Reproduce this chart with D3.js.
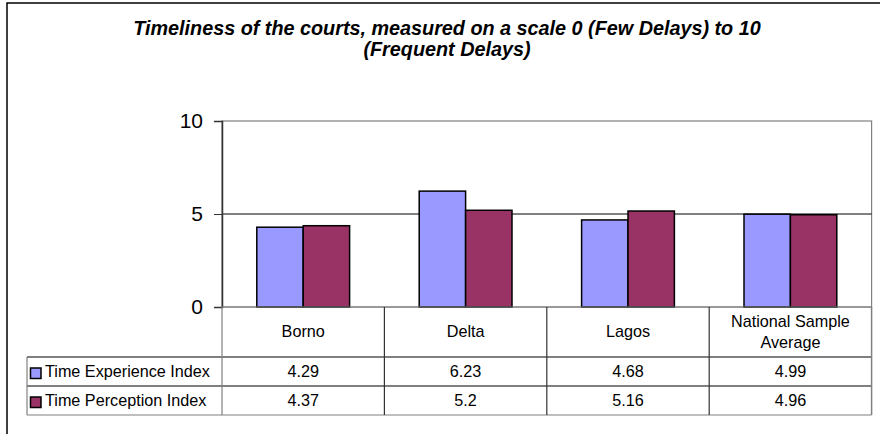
<!DOCTYPE html>
<html>
<head>
<meta charset="utf-8">
<script src="https://cdn.jsdelivr.net/npm/d3@7"></script>
<style>
  body { margin: 0; background: #fff; }
  text { font-family: "Liberation Sans", Arial, sans-serif; }
</style>
</head>
<body>
<div class="chart"></div>
<script>
// Timeliness of the courts - clustered columns with data table

var categories = ["Borno", "Delta", "Lagos", "National Sample Average"];
var seriesNames = ["Time Experience Index", "Time Perception Index"];
var experienceValues = [4.29, 6.23, 4.68, 4.99];
var perceptionValues = [4.37, 5.2, 5.16, 4.96];
var experienceLabels = ["4.29", "6.23", "4.68", "4.99"];
var perceptionLabels = ["4.37", "5.2", "5.16", "4.96"];
var yTicks = [0, 5, 10];

var svgWidth = 880;
var svgHeight = 434;

var colors = ["#9999FF", "#993366"];

var plot = { left: 222, right: 871.6, top: 121, bottom: 307 };
var tableLeft = 27;
var rowLines = [307, 357, 386, 415];

var svg = d3.select(".chart")
    .append("svg")
    .attr("width", svgWidth)
    .attr("height", svgHeight);

// outer chart frame (only top and left are visible)
svg.append("path")
    .attr("d", "M7,440 L7,3 L890,3")
    .attr("fill", "none")
    .attr("stroke", "#000")
    .attr("stroke-width", 1.5);

// title
var title = svg.append("text")
    .attr("text-anchor", "middle")
    .attr("font-size", "19.8px")
    .attr("font-weight", "bold")
    .attr("font-style", "italic");
title.append("tspan").attr("x", 447).attr("y", 35)
    .text("Timeliness of the courts, measured on a scale 0 (Few Delays) to 10");
title.append("tspan").attr("x", 447).attr("y", 56)
    .text("(Frequent Delays)");

// scales
var x0 = d3.scaleBand()
    .domain(categories)
    .range([plot.left, plot.right]);

var x1 = d3.scaleBand()
    .domain(seriesNames)
    .range([0, x0.bandwidth()])
    .paddingOuter(0.75);

var y = d3.scaleLinear()
    .domain([0, 10])
    .range([plot.bottom, plot.top]);

// plot area border
svg.append("rect")
    .attr("x", plot.left)
    .attr("y", plot.top)
    .attr("width", plot.right - plot.left)
    .attr("height", plot.bottom - plot.top)
    .attr("fill", "none")
    .attr("stroke", "#808080")
    .attr("stroke-width", 1.2);

// gridline at 5
svg.selectAll(".grid")
    .data(yTicks.filter(function(d) { return d > 0 && d < 10; }))
    .enter()
    .append("line")
    .attr("x1", plot.left)
    .attr("x2", plot.right)
    .attr("y1", function(d) { return y(d); })
    .attr("y2", function(d) { return y(d); })
    .attr("stroke", "#000")
    .attr("stroke-width", 1);

// bars
var series = [experienceValues, perceptionValues];
series.forEach(function(vals, s) {
    svg.append("g")
        .selectAll("rect")
        .data(vals)
        .enter()
        .append("rect")
        .attr("x", function(d, i) { return x0(categories[i]) + x1(seriesNames[s]); })
        .attr("y", function(d) { return y(d); })
        .attr("width", x1.bandwidth())
        .attr("height", function(d) { return y(0) - y(d); })
        .attr("fill", colors[s])
        .attr("stroke", "#000")
        .attr("stroke-width", 1.5);
});

// y axis
var leftAxis = d3.axisLeft(y)
    .tickValues(yTicks)
    .tickSize(8)
    .tickPadding(11)
    .tickFormat(d3.format("d"));

var yAxis = svg.append("g")
    .attr("transform", "translate(" + plot.left + ",0)")
    .call(leftAxis);
yAxis.select(".domain").attr("stroke", "#333").attr("stroke-width", 1.5);
yAxis.selectAll(".tick line").attr("stroke", "#333");
yAxis.selectAll("text")
    .attr("font-size", "21px")
    .attr("fill", "#000")
    .attr("font-family", "'Liberation Sans', Arial, sans-serif");

// data table
var table = svg.append("g");

// horizontal lines
table.append("line")
    .attr("x1", plot.left).attr("x2", plot.right)
    .attr("y1", rowLines[0]).attr("y2", rowLines[0])
    .attr("stroke", "#808080").attr("stroke-width", 1.2);
rowLines.slice(1).forEach(function(yy, i) {
    table.append("line")
        .attr("x1", tableLeft).attr("x2", plot.right)
        .attr("y1", yy).attr("y2", yy)
        .attr("stroke", i == 2 ? "#808080" : "#000")
        .attr("stroke-width", 1.2);
});

// vertical lines
table.append("line")
    .attr("x1", tableLeft).attr("x2", tableLeft)
    .attr("y1", rowLines[1]).attr("y2", rowLines[3])
    .attr("stroke", "#808080").attr("stroke-width", 1.2);
categories.forEach(function(c, i) {
    table.append("line")
        .attr("x1", x0(c)).attr("x2", x0(c))
        .attr("y1", rowLines[0]).attr("y2", rowLines[3])
        .attr("stroke", i == 0 ? "#808080" : "#333")
        .attr("stroke-width", 1.2);
});
table.append("line")
    .attr("x1", plot.right).attr("x2", plot.right)
    .attr("y1", rowLines[0]).attr("y2", rowLines[3])
    .attr("stroke", "#808080").attr("stroke-width", 1.5);

// category headers
categories.forEach(function(c) {
    var cx = x0(c) + x0.bandwidth() / 2;
    var t = table.append("text")
        .attr("text-anchor", "middle")
        .attr("font-size", "16.2px");
    if (c == "National Sample Average") {
        t.append("tspan").attr("x", cx).attr("y", 327).text("National Sample");
        t.append("tspan").attr("x", cx).attr("y", 348).text("Average");
    } else {
        t.attr("x", cx).attr("y", 337).text(c);
    }
});

// value rows
var rowLabels = [experienceLabels, perceptionLabels];
var rowBase = [377, 406];
rowLabels.forEach(function(labels, s) {
    table.append("rect")
        .attr("x", 30.5)
        .attr("y", rowBase[s] - 9)
        .attr("width", 10.5)
        .attr("height", 10.5)
        .attr("fill", colors[s])
        .attr("stroke", "#000")
        .attr("stroke-width", 1.5);
    table.append("text")
        .attr("x", 45)
        .attr("y", rowBase[s])
        .attr("font-size", "16.2px")
        .text(seriesNames[s]);
    table.selectAll(".v" + s)
        .data(labels)
        .enter()
        .append("text")
        .attr("x", function(d, i) { return x0(categories[i]) + x0.bandwidth() / 2; })
        .attr("y", rowBase[s])
        .attr("text-anchor", "middle")
        .attr("font-size", "16.2px")
        .text(function(d) { return d; });
});
</script>
</body>
</html>
